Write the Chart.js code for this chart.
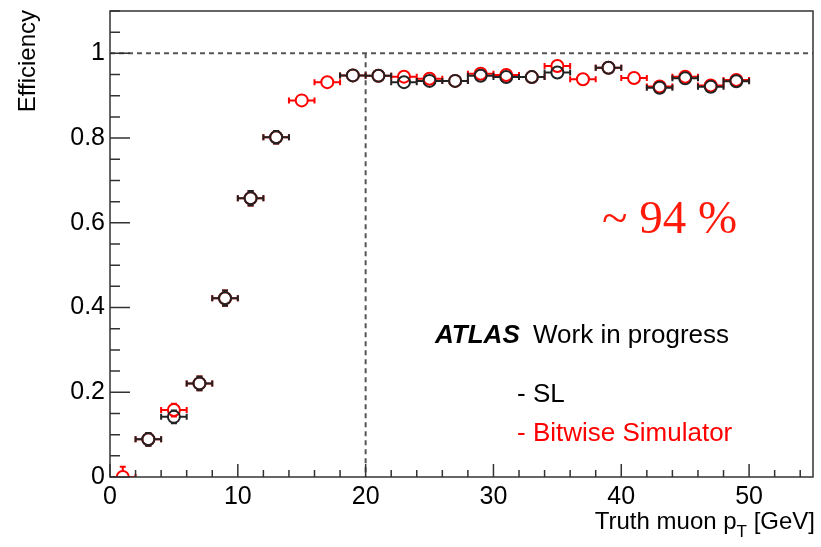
<!DOCTYPE html>
<html>
<head>
<meta charset="utf-8">
<script src="https://cdn.jsdelivr.net/npm/chart.js@4.4.1/dist/chart.umd.min.js"></script>
<style>
  html, body { margin: 0; padding: 0; background: #fff; }
  canvas { display: block; }
</style>
</head>
<body>
<canvas id="effChart" width="821" height="547"></canvas>
<script>
// bin centres in truth muon pT [GeV], 2 GeV wide bins
const ptBins = [1, 3, 5, 7, 9, 11, 13, 15, 17, 19, 21, 23, 25, 27, 29, 31, 33, 35, 37, 39, 41, 43, 45, 47, 49];
const binHalfWidth = 1;

// efficiency of the sector logic (black) and the bitwise simulator (red)
const slEff  = [null, 0.089, 0.142, 0.221, 0.422, 0.658, 0.802, null, null, 0.948, 0.947, 0.932, 0.935, 0.935, 0.947, 0.944, 0.944, 0.955, null, 0.966, null, 0.919, 0.941, 0.921, 0.934];
const bitEff = [0.0, 0.089, 0.158, 0.221, 0.422, 0.658, 0.802, 0.889, 0.932, 0.948, 0.947, 0.945, 0.940, 0.935, 0.952, 0.949, 0.944, 0.970, 0.939, 0.966, 0.942, 0.922, 0.945, 0.924, 0.937];
const effErr = [0.024, 0.015, 0.015, 0.016, 0.018, 0.017, 0.015, 0.008, 0.006, 0.004, 0.004, 0.004, 0.004, 0.004, 0.004, 0.004, 0.004, 0.004, 0.004, 0.004, 0.004, 0.004, 0.004, 0.004, 0.004];

const xTickLabels = [0, 10, 20, 30, 40, 50];
const yTickLabels = [0, 0.2, 0.4, 0.6, 0.8, 1];
const plateauLine = 1;
const thresholdPt = 20;

const SANS = '"Liberation Sans", Arial, Helvetica, sans-serif';

function toPoints(values) {
    return ptBins.map((x, i) => ({ x: x, y: values[i], err: effErr[i] }));
}

// ROOT-like frame, inward ticks, error bars, dashed guides and text
const rootStyle = {
    id: 'rootStyle',
    beforeDatasetsDraw(chart) {
        const { ctx, chartArea: a, scales: { x, y } } = chart;
        ctx.save();
        ctx.strokeStyle = '#555';
        ctx.lineWidth = 2;
        ctx.setLineDash([5, 4]);
        ctx.beginPath();
        ctx.moveTo(a.left, y.getPixelForValue(plateauLine));
        ctx.lineTo(a.right, y.getPixelForValue(plateauLine));
        ctx.moveTo(x.getPixelForValue(thresholdPt), y.getPixelForValue(plateauLine));
        ctx.lineTo(x.getPixelForValue(thresholdPt), y.getPixelForValue(0));
        ctx.stroke();
        ctx.restore();
    },
    beforeDatasetDraw(chart, args) {
        const { ctx, chartArea: a, scales: { x, y } } = chart;
        const ds = chart.data.datasets[args.index];
        const r = ds.pointRadius;
        const cap = 3;
        ctx.save();
        ctx.beginPath();
        ctx.rect(a.left, a.top, a.right - a.left, a.bottom - a.top);
        ctx.clip();
        ctx.strokeStyle = ds.borderColor;
        ctx.lineWidth = 2;
        ctx.beginPath();
        ds.data.forEach(p => {
            if (p.y === null) return;
            const px = x.getPixelForValue(p.x);
            const py = y.getPixelForValue(p.y);
            const x0 = x.getPixelForValue(p.x - binHalfWidth);
            const x1 = x.getPixelForValue(p.x + binHalfWidth);
            const y0 = y.getPixelForValue(p.y - p.err);
            const y1 = y.getPixelForValue(p.y + p.err);
            ctx.moveTo(x0, py); ctx.lineTo(px - r, py);
            ctx.moveTo(px + r, py); ctx.lineTo(x1, py);
            ctx.moveTo(x0, py - cap); ctx.lineTo(x0, py + cap);
            ctx.moveTo(x1, py - cap); ctx.lineTo(x1, py + cap);
            if (y1 < py - r) {
                ctx.moveTo(px, py - r); ctx.lineTo(px, y1);
                ctx.moveTo(px - cap, y1); ctx.lineTo(px + cap, y1);
            }
            if (y0 > py + r) {
                ctx.moveTo(px, py + r); ctx.lineTo(px, y0);
                ctx.moveTo(px - cap, y0); ctx.lineTo(px + cap, y0);
            }
        });
        ctx.stroke();
        ctx.restore();
    },
    afterDraw(chart) {
        const { ctx, chartArea: a, scales: { x, y } } = chart;
        ctx.save();
        // frame
        ctx.strokeStyle = '#333';
        ctx.lineWidth = 1.5;
        ctx.strokeRect(a.left, a.top, a.right - a.left, a.bottom - a.top);
        // inward ticks
        ctx.beginPath();
        for (let v = 0; v <= 55.001; v += 2) {
            const px = x.getPixelForValue(v);
            const len = (v % 10 === 0) ? 13 : 7;
            ctx.moveTo(px, a.bottom);
            ctx.lineTo(px, a.bottom - len);
        }
        for (let k = 0; k <= 22; k++) {
            const v = k * 0.05;
            const py = y.getPixelForValue(v);
            const len = (k % 4 === 0) ? 20 : 10;
            ctx.moveTo(a.left, py);
            ctx.lineTo(a.left + len, py);
        }
        ctx.stroke();

        // axis titles
        ctx.fillStyle = '#000';
        ctx.font = '24px ' + SANS;
        ctx.textBaseline = 'alphabetic';
        ctx.save();
        ctx.translate(35, 10);
        ctx.rotate(-Math.PI / 2);
        ctx.textAlign = 'right';
        ctx.fillText('Efficiency', 0, 0);
        ctx.restore();

        const tail = ' [GeV]';
        const head = 'Truth muon p';
        const right = 815;
        const base = 529;
        ctx.textAlign = 'left';
        const wTail = ctx.measureText(tail).width;
        ctx.font = '17px ' + SANS;
        const wSub = ctx.measureText('T').width;
        ctx.font = '24px ' + SANS;
        const wHead = ctx.measureText(head).width;
        let cx = right - wTail - wSub - wHead;
        ctx.fillText(head, cx, base);
        cx += wHead;
        ctx.font = '17px ' + SANS;
        ctx.fillText('T', cx, base + 8);
        cx += wSub;
        ctx.font = '24px ' + SANS;
        ctx.fillText(tail, cx, base);

        // labels inside the pad
        ctx.fillStyle = '#ff1a0a';
        ctx.font = '47px "Liberation Serif", "Times New Roman", serif';
        ctx.fillText('~ 94 %', 602, 233);

        ctx.fillStyle = '#000';
        ctx.font = 'italic bold 26px ' + SANS;
        ctx.fillText('ATLAS', 435, 343);
        ctx.font = '26px ' + SANS;
        ctx.fillText('Work in progress', 533, 343);
        ctx.fillText('- SL', 517, 402);
        ctx.fillStyle = '#f00';
        ctx.fillText('- Bitwise Simulator', 517, 441);
        ctx.restore();
    }
};

function renderEfficiencyChart() {
    const ctx = document.getElementById('effChart').getContext('2d');
    new Chart(ctx, {
        type: 'scatter',
        data: {
            datasets: [
                {
                    label: 'SL',
                    data: toPoints(slEff),
                    borderColor: '#222', backgroundColor: 'rgba(0,0,0,0)',
                    pointRadius: 6, pointBorderWidth: 2, pointHoverRadius: 6
                },
                {
                    label: 'Bitwise Simulator',
                    data: toPoints(bitEff),
                    borderColor: '#ff0000', backgroundColor: 'rgba(0,0,0,0)',
                    pointRadius: 6, pointBorderWidth: 2, pointHoverRadius: 6
                }
            ]
        },
        options: {
            responsive: false, animation: false, devicePixelRatio: 1,
            layout: { padding: { top: 11, right: -4, left: 0, bottom: 0 } },
            plugins: { legend: { display: false }, tooltip: { enabled: false } },
            scales: {
                x: {
                    type: 'linear', min: 0, max: 55,
                    grid: { display: false, drawTicks: false },
                    border: { display: false },
                    afterBuildTicks: s => { s.ticks = xTickLabels.map(v => ({ value: v })); },
                    afterFit: s => { s.height = 70; s.paddingLeft = 0; s.paddingRight = 0; },
                    ticks: { padding: 5, maxRotation: 0, autoSkip: false, color: '#000', font: { family: SANS, size: 25 } }
                },
                y: {
                    type: 'linear', min: 0, max: 1.1,
                    grid: { display: false, drawTicks: false },
                    border: { display: false },
                    afterBuildTicks: s => { s.ticks = yTickLabels.map(v => ({ value: v })); },
                    afterFit: s => { s.width = 110; s.paddingTop = 0; s.paddingBottom = 0; },
                    ticks: { padding: 5, color: '#000', font: { family: SANS, size: 25 }, callback: v => String(v) }
                }
            }
        },
        plugins: [rootStyle]
    });
}

renderEfficiencyChart();
</script>
</body>
</html>
